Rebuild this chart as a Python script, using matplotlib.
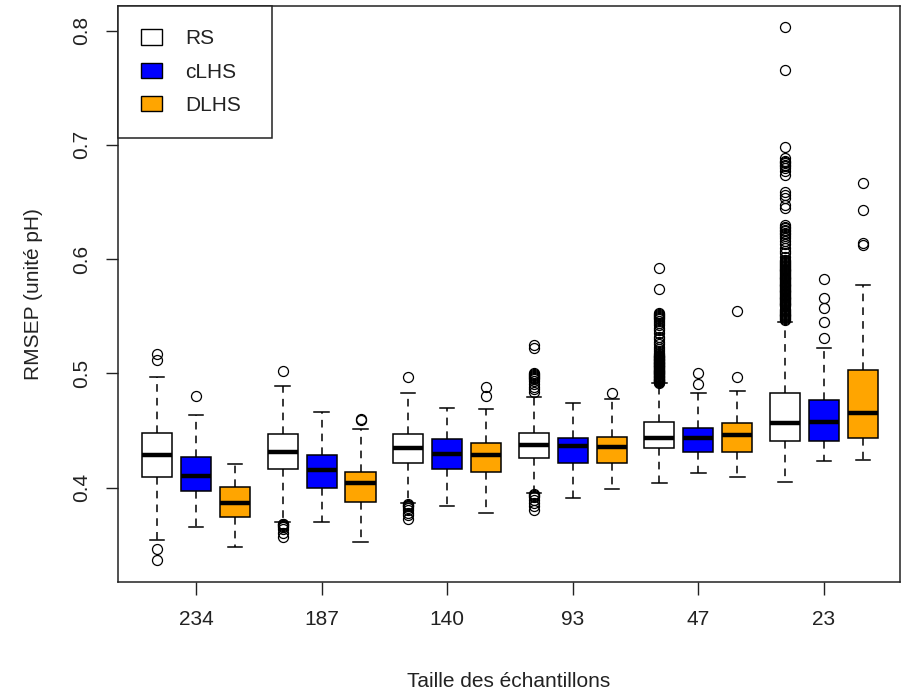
import matplotlib
matplotlib.use("Agg")
import matplotlib.pyplot as plt
from matplotlib.patches import Patch

# ---------------- data ----------------
sizes = ["234", "187", "140", "93", "47", "23"]
methods = ["RS", "cLHS", "DLHS"]
colors = ["#FFFFFF", "#0000FF", "#FFA500"]

rs_whislo = [0.3541, 0.3696, 0.3863, 0.3950, 0.4043, 0.4052]
rs_q1 = [0.4093, 0.4166, 0.4213, 0.4257, 0.4344, 0.4408]
rs_med = [0.4286, 0.4309, 0.4350, 0.4370, 0.4437, 0.4563]
rs_q3 = [0.4475, 0.4472, 0.4472, 0.4475, 0.4577, 0.4831]
rs_whishi = [0.4966, 0.4890, 0.4831, 0.4791, 0.4913, 0.5453]
rs_out = [
    [0.5167, 0.5117, 0.3465, 0.3366],
    [0.5021, 0.3685, 0.3679, 0.3673, 0.3664, 0.3655, 0.3635, 0.3600, 0.3565],
    [0.4971, 0.3855, 0.3850, 0.3843, 0.3835, 0.3819, 0.3800, 0.3781,
     0.3760, 0.3723],
    [0.5249, 0.5220, 0.5001, 0.4993, 0.4985, 0.4977, 0.4970, 0.4962,
     0.4950, 0.4930, 0.4905, 0.4880, 0.4860, 0.4840, 0.3942, 0.3936,
     0.3930, 0.3920, 0.3890, 0.3863, 0.3835, 0.3804],
    [0.5926, 0.5736, 0.5526, 0.5518, 0.5511, 0.5502, 0.5494, 0.5486,
     0.5478, 0.5461, 0.5440, 0.5421, 0.5399, 0.5381, 0.5352, 0.5318,
     0.5301, 0.5279, 0.5256, 0.5232, 0.5211, 0.5192, 0.5176, 0.5168,
     0.5161, 0.5155, 0.5149, 0.5144, 0.5141, 0.5133, 0.5128, 0.5124,
     0.5119, 0.5113, 0.5108, 0.5104, 0.5101, 0.5094, 0.5089, 0.5085,
     0.5081, 0.5074, 0.5069, 0.5066, 0.5062, 0.5055, 0.5048, 0.5044,
     0.5041, 0.5034, 0.5029, 0.5025, 0.5022, 0.5015, 0.5009, 0.5005,
     0.5001, 0.4996, 0.4991, 0.4985, 0.4979, 0.4975, 0.4972, 0.4966,
     0.4961, 0.4954, 0.4948, 0.4945, 0.4942, 0.4936, 0.4931, 0.4926,
     0.4921, 0.4917],
    [0.8030, 0.7656, 0.6985, 0.6883, 0.6862, 0.6851, 0.6841, 0.6826,
     0.6812, 0.6795, 0.6771, 0.6737, 0.6591, 0.6562, 0.6531, 0.6474,
     0.6445, 0.6299, 0.6284, 0.6271, 0.6258, 0.6244, 0.6233, 0.6221,
     0.6205, 0.6189, 0.6162, 0.6131, 0.6102, 0.6074, 0.6051, 0.6022,
     0.5992, 0.5984, 0.5976, 0.5969, 0.5961, 0.5952, 0.5941, 0.5933,
     0.5926, 0.5918, 0.5909, 0.5901, 0.5894, 0.5887, 0.5881, 0.5871,
     0.5862, 0.5853, 0.5844, 0.5838, 0.5831, 0.5823, 0.5816, 0.5807,
     0.5799, 0.5792, 0.5784, 0.5777, 0.5771, 0.5762, 0.5754, 0.5748,
     0.5741, 0.5732, 0.5724, 0.5718, 0.5711, 0.5703, 0.5696, 0.5689,
     0.5681, 0.5672, 0.5664, 0.5657, 0.5651, 0.5643, 0.5636, 0.5627,
     0.5619, 0.5611, 0.5604, 0.5597, 0.5591, 0.5560, 0.5552, 0.5544,
     0.5538, 0.5531, 0.5522, 0.5514, 0.5508, 0.5501, 0.5493, 0.5486,
     0.5478, 0.5470],
]

clhs_whislo = [0.3658, 0.3696, 0.3839, 0.3912, 0.4131, 0.4233]
clhs_q1 = [0.3973, 0.3999, 0.4166, 0.4218, 0.4315, 0.4408]
clhs_med = [0.4104, 0.4157, 0.4294, 0.4364, 0.4437, 0.4577]
clhs_q3 = [0.4271, 0.4283, 0.4425, 0.4437, 0.4525, 0.4767]
clhs_whishi = [0.4636, 0.4665, 0.4700, 0.4738, 0.4831, 0.5225]
clhs_out = [[0.4802], [], [], [], [0.5001, 0.4904],
            [0.5824, 0.5657, 0.5570, 0.5453, 0.5312]]

dlhs_whislo = [0.3477, 0.3521, 0.3775, 0.3988, 0.4096, 0.4242]
dlhs_q1 = [0.3745, 0.3874, 0.4139, 0.4218, 0.4315, 0.4437]
dlhs_med = [0.3865, 0.4038, 0.4283, 0.4358, 0.4461, 0.4651]
dlhs_q3 = [0.4003, 0.4139, 0.4393, 0.4446, 0.4563, 0.5030]
dlhs_whishi = [0.4204, 0.4510, 0.4688, 0.4778, 0.4846, 0.5774]
dlhs_out = [[], [0.4603, 0.4592], [0.4883, 0.4802], [0.4831],
            [0.5544, 0.4971], [0.6664, 0.6430, 0.6139, 0.6124]]

y_ticks = [0.4, 0.5, 0.6, 0.7, 0.8]
y_label = "RMSEP (unité pH)"
x_label = "Taille des échantillons"

# ---------------- plot ----------------
plt.rcParams['font.family'] = ['Liberation Sans', 'DejaVu Sans']

W, H = 903, 693
fig = plt.figure(figsize=(W / 100, H / 100), dpi=100)
left_px, right_px, top_px, bottom_px = 117.7, 900, 6, 582
ax = fig.add_axes([left_px / W, 1 - bottom_px / H,
                   (right_px - left_px) / W, (bottom_px - top_px) / H])

series = [
    (rs_whislo, rs_q1, rs_med, rs_q3, rs_whishi, rs_out),
    (clhs_whislo, clhs_q1, clhs_med, clhs_q3, clhs_whishi, clhs_out),
    (dlhs_whislo, dlhs_q1, dlhs_med, dlhs_q3, dlhs_whishi, dlhs_out),
]
offsets = [-0.31, 0.0, 0.31]

for (wl, q1, med, q3, wh, out), off, col in zip(series, offsets, colors):
    stats = []
    for i in range(len(sizes)):
        stats.append(dict(whislo=wl[i], q1=q1[i], med=med[i], q3=q3[i],
                          whishi=wh[i], fliers=out[i]))
    pos = [i + off for i in range(len(sizes))]
    ax.bxp(stats, positions=pos, widths=0.239, capwidths=0.115,
           patch_artist=True, manage_ticks=False,
           boxprops=dict(facecolor=col, edgecolor='black', linewidth=1.1),
           medianprops=dict(color='black', linewidth=3.2,
                            solid_capstyle='butt'),
           whiskerprops=dict(color='black', linewidth=1.1,
                             linestyle=(0, (5, 4))),
           capprops=dict(color='black', linewidth=1.1),
           flierprops=dict(marker='o', markerfacecolor='none',
                           markeredgecolor='black', markersize=7.2,
                           markeredgewidth=0.9, linestyle='none'))

ax.set_xlim(-0.623, 5.605)
ax.set_ylim(0.3174, 0.8216)
ax.set_xticks(range(len(sizes)))
ax.set_xticklabels(sizes, fontsize=15)
ax.set_yticks(y_ticks)
ax.set_yticklabels([f"{v:.1f}" for v in y_ticks], fontsize=15,
                   rotation=90, va='center')
ax.tick_params(axis='both', direction='out', length=9, width=1,
               color='#222222', labelcolor='#222222')
ax.tick_params(axis='x', pad=11)
ax.tick_params(axis='y', pad=10)
for s in ax.spines.values():
    s.set_linewidth(1.1)
    s.set_color('#222222')

ax.set_xlabel(x_label, fontsize=15, color='#222222', va='center')
ax.xaxis.set_label_coords(0.5, -0.172)
ax.set_ylabel(y_label, fontsize=15, color='#222222', va='center')
ax.yaxis.set_label_coords(-0.108, 0.5)

handles = [Patch(facecolor=c, edgecolor='black', linewidth=1.0)
           for c in colors]
leg = ax.legend(handles, methods, loc='upper left',
                bbox_to_anchor=(0, 0, 0.197, 1), mode='expand',
                borderaxespad=0, fontsize=15, frameon=True, fancybox=False,
                framealpha=1, edgecolor='#222222', handlelength=1.0,
                handleheight=0.77, handletextpad=1.1, borderpad=1.12,
                labelspacing=0.68)
leg.get_frame().set_linewidth(1.1)
for t in leg.get_texts():
    t.set_color('#222222')

fig.savefig("out.png", dpi=100, facecolor='white')
